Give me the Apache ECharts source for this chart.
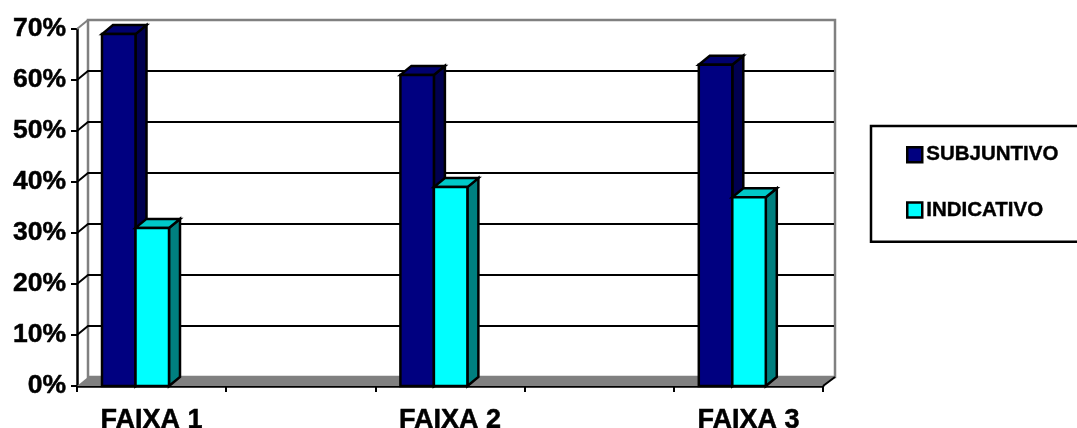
<html>

<head>
    <meta charset="utf-8">
    <script src="https://cdn.jsdelivr.net/npm/echarts@6/dist/echarts.min.js"></script>
    <style>
        html, body { margin: 0; padding: 0; background: #fff; overflow: hidden; }
        #main { width: 1077px; height: 428px; }
    </style>
</head>

<body>
    <div id="main"></div>

    <script>
        // blank bands between the groups are how the original axis gets its ticks
        var categories = ['FAIXA 1', '', 'FAIXA 2', '', 'FAIXA 3'];
        var subjuntivo = [69, null, 61, null, 63];
        var indicativo = [31, null, 39, null, 37];
        var yTicks = [0, 10, 20, 30, 40, 50, 60, 70];

        var DEPTH_X = 11;
        var DEPTH_Y = 9;
        var BAR_W = 33.5;
        var BAR_OFFSET = 25;
        var FONT = '"Liberation Sans", Arial, sans-serif';

        function pairs(values) {
            var out = [];
            for (var i = 0; i < values.length; i += 1) {
                if (values[i] !== null) {
                    out.push([i, values[i]]);
                }
            }
            return out;
        }

        function bar3d(slot, front, top, side) {
            return function (params, api) {
                var topPt = api.coord([api.value(0), api.value(1)]);
                var basePt = api.coord([api.value(0), 0]);
                var band = api.size([1, 0])[0];
                var x0 = topPt[0] - band / 2 + BAR_OFFSET + slot * BAR_W;
                var x1 = x0 + BAR_W;
                var y0 = topPt[1];
                var y1 = basePt[1];
                var line = { stroke: '#000', lineWidth: 2.5, lineJoin: 'miter' };
                return {
                    type: 'group',
                    children: [{
                        type: 'polygon',
                        shape: { points: [[x1, y0], [x1 + DEPTH_X, y0 - DEPTH_Y], [x1 + DEPTH_X, y1 - DEPTH_Y], [x1, y1]] },
                        style: Object.assign({ fill: side }, line)
                    }, {
                        type: 'polygon',
                        shape: { points: [[x0, y0], [x0 + DEPTH_X, y0 - DEPTH_Y], [x1 + DEPTH_X, y0 - DEPTH_Y], [x1, y0]] },
                        style: Object.assign({ fill: top }, line)
                    }, {
                        type: 'rect',
                        shape: { x: x0, y: y0, width: BAR_W, height: y1 - y0 },
                        style: Object.assign({ fill: front }, line)
                    }]
                };
            };
        }

        // back wall, floor and gridlines, pushed back by the depth offset
        function renderWall(params, api) {
            var cs = params.coordSys;
            var v = api.value(0);
            var y = api.coord([0, v])[1];
            var left = cs.x;
            var right = cs.x + cs.width;
            var children = [];
            var gray = '#808080';

            if (v === 0) {
                children.push({
                    type: 'rect',
                    shape: { x: left + DEPTH_X, y: cs.y - DEPTH_Y, width: cs.width + 1, height: cs.height },
                    style: { fill: '#fff', stroke: gray, lineWidth: 2.5 }
                });
                children.push({
                    type: 'polygon',
                    shape: { points: [[left, y], [left + DEPTH_X, y - DEPTH_Y], [right + DEPTH_X + 1, y - DEPTH_Y], [right, y]] },
                    style: { fill: gray }
                });
                children.push({
                    type: 'line',
                    shape: { x1: right, y1: y, x2: right + DEPTH_X + 1, y2: y - DEPTH_Y },
                    style: { stroke: '#000', lineWidth: 2 }
                });
            } else if (v === yTicks[yTicks.length - 1]) {
                children.push({
                    type: 'line',
                    shape: { x1: left, y1: y, x2: left + DEPTH_X, y2: y - DEPTH_Y },
                    style: { stroke: gray, lineWidth: 2 }
                });
            } else {
                children.push({
                    type: 'polyline',
                    shape: { points: [[left, y], [left + DEPTH_X, y - DEPTH_Y], [right + DEPTH_X, y - DEPTH_Y]] },
                    style: { fill: 'none', stroke: '#000', lineWidth: 2 }
                });
            }
            return { type: 'group', children: children };
        }

        var chart = echarts.init(document.getElementById('main'));

        chart.setOption({
            animation: false,
            backgroundColor: '#fff',
            grid: { left: 77, right: 254, top: 29, bottom: 42, outerBoundsMode: 'none' },
            legend: {
                left: 871,
                top: 126,
                orient: 'vertical',
                padding: [18, 60, 21, 35],
                itemWidth: 15,
                itemHeight: 15,
                itemGap: 34,
                borderColor: '#000',
                borderWidth: 2.5,
                selectedMode: false,
                textStyle: { fontFamily: FONT, fontWeight: 'bold', fontSize: 20.5, color: '#000', textBorderColor: '#000', textBorderWidth: 0.4, padding: [0, 0, 0, -1] },
                data: [
                    { name: 'SUBJUNTIVO', icon: 'rect', itemStyle: { color: '#000080', borderColor: '#000', borderWidth: 2.5 } },
                    { name: 'INDICATIVO', icon: 'rect', itemStyle: { color: '#00ffff', borderColor: '#000', borderWidth: 2.5 } }
                ]
            },
            xAxis: {
                type: 'category',
                data: categories,
                axisLine: { show: true, lineStyle: { color: '#000', width: 2.5 } },
                axisTick: { show: true, length: 6, interval: 0, lineStyle: { color: '#000', width: 2 } },
                axisLabel: { interval: 0, margin: 21, fontFamily: FONT, fontWeight: 'bold', fontSize: 27, color: '#000', textBorderColor: '#000', textBorderWidth: 0.5 }
            },
            yAxis: {
                type: 'value',
                min: 0,
                max: 70,
                interval: 10,
                splitLine: { show: false },
                axisLine: { show: true, lineStyle: { color: '#000', width: 2.5 } },
                axisTick: { show: true, length: 6, lineStyle: { color: '#000', width: 2 } },
                axisLabel: { margin: 11, padding: [6, 0, 0, 0], fontFamily: FONT, fontWeight: 'bold', fontSize: 26.5, color: '#000', textBorderColor: '#000', textBorderWidth: 0.5, formatter: '{value}%' }
            },
            series: [{
                name: 'wall',
                type: 'custom',
                z: 1,
                silent: true,
                renderItem: renderWall,
                data: yTicks.map(function (v) { return [v]; }),
                encode: { y: 0 }
            }, {
                name: 'SUBJUNTIVO',
                type: 'custom',
                z: 2,
                renderItem: bar3d(0, '#000080', '#00006e', '#000050'),
                data: pairs(subjuntivo),
                encode: { x: 0, y: 1 }
            }, {
                name: 'INDICATIVO',
                type: 'custom',
                z: 3,
                renderItem: bar3d(1, '#00ffff', '#00c8c8', '#008080'),
                data: pairs(indicativo),
                encode: { x: 0, y: 1 }
            }]
        });

        window.onresize = function () {
            chart.resize();
        }
    </script>
</body>

</html>
